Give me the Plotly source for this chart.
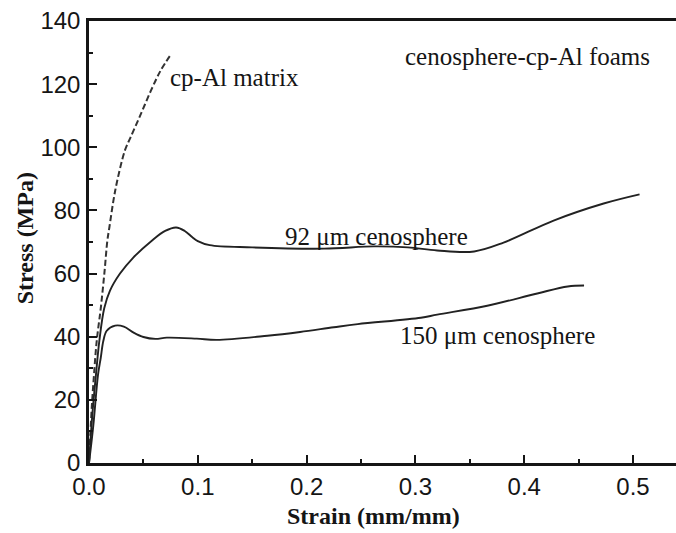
import plotly.graph_objects as go

# Compressive stress-strain curves (strain in mm/mm, stress in MPa)
matrix_strain = [0.0, 0.0025, 0.0046, 0.0071, 0.0108, 0.0141, 0.0169, 0.0187, 0.0224,
                 0.026, 0.033, 0.038, 0.047, 0.057, 0.066, 0.0755]
matrix_stress = [0.0, 17.5, 28.0, 38.7, 49.0, 60.0, 70.5, 74.6, 83.0,
                 89.5, 99.0, 103.0, 110.0, 118.0, 124.4, 129.5]

foam92_strain = [0.0, 0.003, 0.0064, 0.0095, 0.014, 0.0193, 0.0285, 0.0405, 0.058, 0.07,
                 0.08, 0.088, 0.095, 0.1, 0.111, 0.15, 0.216, 0.262, 0.293, 0.32,
                 0.354, 0.381, 0.427, 0.473, 0.506]
foam92_stress = [0.0, 15.0, 28.0, 38.7, 49.0, 54.6, 60.0, 65.0, 70.5, 73.5,
                 74.6, 73.5, 71.5, 70.3, 69.0, 68.3, 67.9, 68.6, 68.3, 67.3,
                 67.0, 69.8, 76.8, 82.2, 85.1]

foam150_strain = [0.0, 0.004, 0.0083, 0.0108, 0.0132, 0.0163, 0.024, 0.032, 0.041, 0.05,
                  0.061, 0.0715, 0.099, 0.1175, 0.164, 0.194, 0.225, 0.247, 0.305, 0.32,
                  0.366, 0.412, 0.44, 0.455]
foam150_stress = [0.0, 12.0, 28.0, 33.3, 38.7, 41.9, 43.5, 43.2, 41.3, 39.9,
                  39.3, 39.7, 39.4, 39.0, 40.3, 41.5, 43.0, 44.0, 46.0, 47.0,
                  49.8, 53.7, 55.9, 56.2]

x_ticks = [0.0, 0.1, 0.2, 0.3, 0.4, 0.5]
x_tick_text = ["0.0", "0.1", "0.2", "0.3", "0.4", "0.5"]
y_ticks = [0, 20, 40, 60, 80, 100, 120, 140]

# Text labels placed next to the curves: (text, strain, stress, anchor)
curve_labels = [
    ("cp-Al matrix", 0.0726, 122.2, "left"),
    ("cenosphere-cp-Al foams", 0.4026, 128.9, "center"),
    ("92 \u03bcm cenosphere", 0.2638, 71.8, "center"),
    ("150 \u03bcm cenosphere", 0.3755, 40.4, "center"),
]

INK = "#151515"
SERIF = "Liberation Serif, Times New Roman, serif"
SANS = "Liberation Sans, Arial, sans-serif"

fig = go.Figure()
fig.add_trace(go.Scatter(x=matrix_strain, y=matrix_stress, mode="lines",
                         line=dict(color="#333333", width=2, dash="6px,3px", shape="spline"),
                         showlegend=False))
fig.add_trace(go.Scatter(x=foam92_strain, y=foam92_stress, mode="lines",
                         line=dict(color="#222222", width=1.9, shape="spline"),
                         showlegend=False))
fig.add_trace(go.Scatter(x=foam150_strain, y=foam150_stress, mode="lines",
                         line=dict(color="#222222", width=1.9, shape="spline"),
                         showlegend=False))

for text, sx, sy, anchor in curve_labels:
    fig.add_annotation(x=sx, y=sy, xref="x", yref="y", text=text, showarrow=False,
                       xanchor=anchor, yanchor="middle",
                       font=dict(family=SERIF, size=25, color=INK))

fig.add_annotation(x=-0.109, y=0.5085, xref="paper", yref="paper",
                   text="<b>Stress (MPa)</b>", showarrow=False, textangle=-90,
                   xanchor="center", yanchor="middle",
                   font=dict(family=SERIF, size=24, color=INK))
fig.add_annotation(x=0.4855, y=-0.121, xref="paper", yref="paper",
                   text="<b>Strain (mm/mm)</b>", showarrow=False,
                   xanchor="center", yanchor="middle",
                   font=dict(family=SERIF, size=24, color=INK))

fig.update_xaxes(range=[0, 0.5395], tickvals=x_ticks, ticktext=x_tick_text,
                 ticks="inside", ticklen=8, tickwidth=1.5, tickcolor=INK,
                 showline=True, linewidth=2.5, linecolor=INK, mirror=True,
                 showgrid=False, zeroline=False,
                 minor=dict(dtick=0.05, tick0=0, ticks="inside", ticklen=4,
                            tickwidth=1.5, tickcolor=INK, showgrid=False),
                 tickfont=dict(family=SANS, size=24, color=INK),
                 ticklabelstandoff=0)
fig.update_yaxes(range=[0, 140], tickvals=y_ticks,
                 ticks="inside", ticklen=8, tickwidth=1.5, tickcolor=INK,
                 showline=True, linewidth=2.5, linecolor=INK, mirror=False,
                 showgrid=False, zeroline=False,
                 minor=dict(dtick=10, tick0=0, ticks="inside", ticklen=4,
                            tickwidth=1.5, tickcolor=INK, showgrid=False),
                 tickfont=dict(family=SANS, size=24, color=INK),
                 ticklabelstandoff=1)

fig.update_layout(width=676, height=533,
                  margin=dict(l=89, r=0, t=21, b=70, pad=0),
                  paper_bgcolor="white", plot_bgcolor="white")

fig.write_html("out.html")
